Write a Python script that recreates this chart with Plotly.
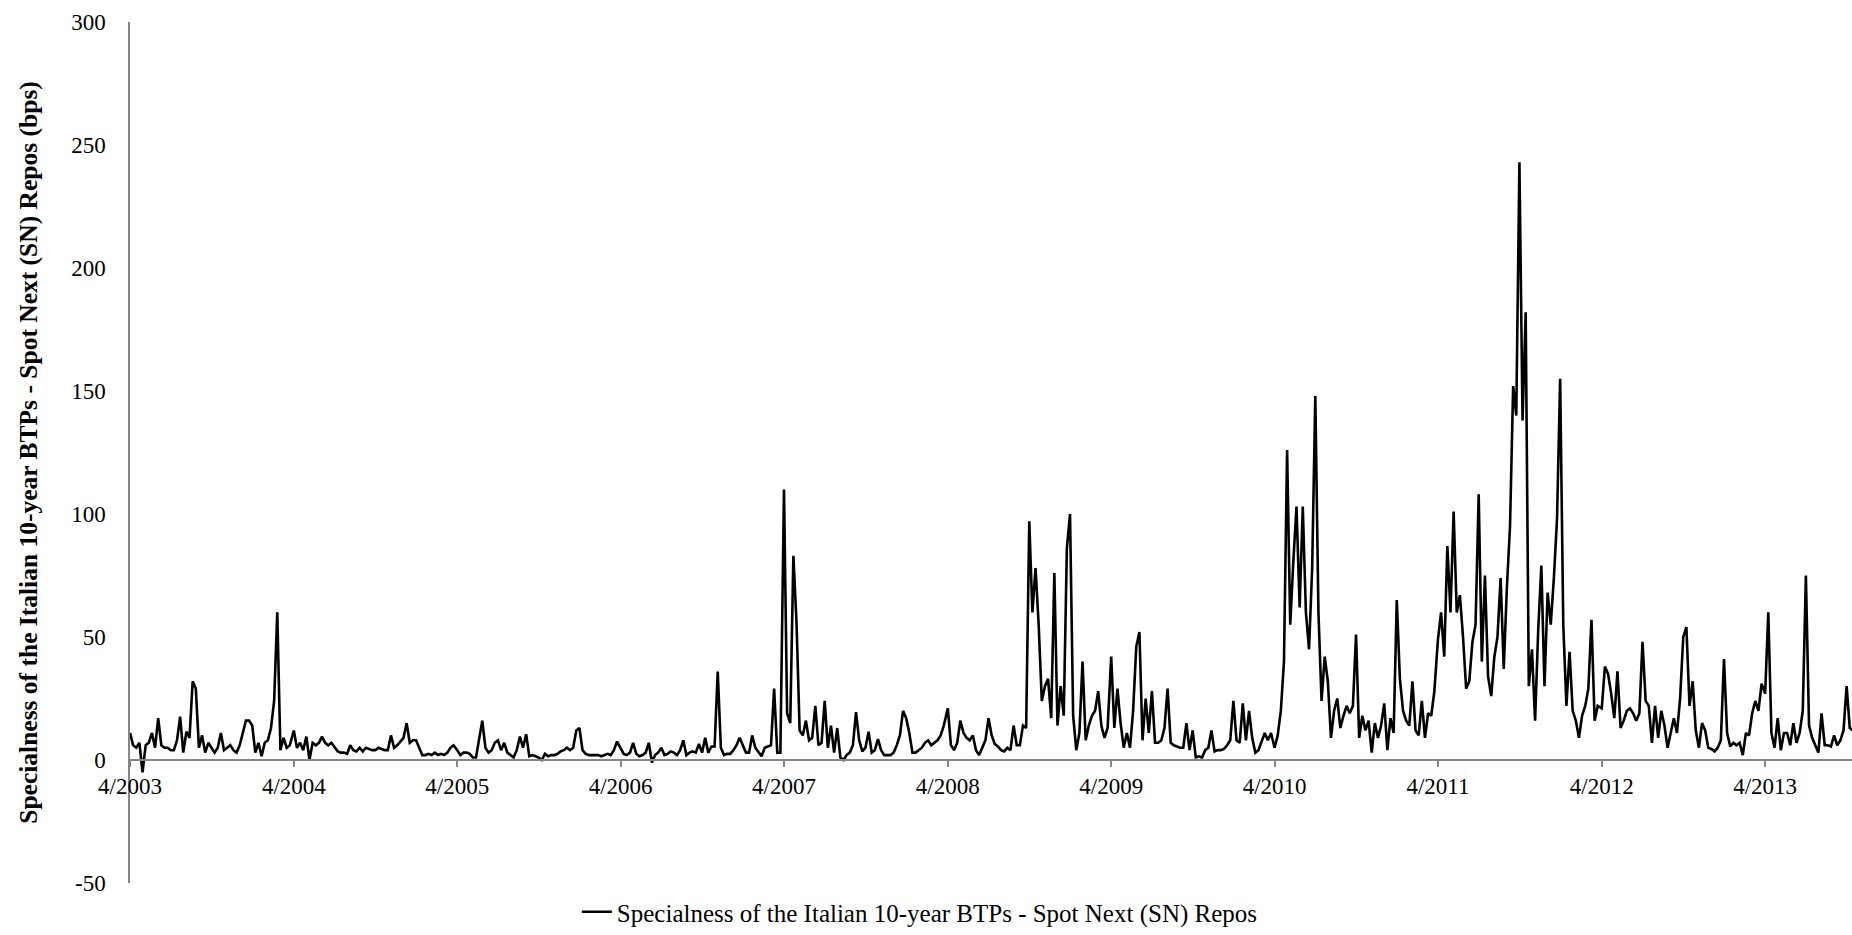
import pandas as pd
import plotly.graph_objects as go

# Weekly readings (bps), one list per April-to-April year
seg_2003 = [11, 6, 5, 7, -5, 6, 7, 11, 5, 17,
            6, 5, 5, 4, 4, 8, 17.6, 3, 11.5, 9,
            32, 29, 5, 10, 3, 7, 5, 3, 5, 11,
            4, 5, 6, 4, 3, 6, 11, 16, 16, 14,
            3, 7, 1.5, 7, 8, 13, 24, 60, 4, 9,
            5, 6]
seg_2004 = [12, 5, 7, 4, 9.5, 0, 7, 6,
            7, 9.5, 7, 6, 7, 5, 3.5, 3, 3, 2.5,
            6, 4, 3.5, 5, 3.5, 5, 4.5, 4, 4, 5,
            4.5, 4, 4, 10, 5, 6, 7.5, 9, 15, 7,
            8, 8, 5, 2, 2, 2.5, 2, 3, 2, 2.5,
            2, 3, 5, 6]
seg_2005 = [4, 2, 3, 3, 2.5, 1,
            1, 8, 16, 5, 3, 4, 7, 8, 4, 7,
            3, 2, 1, 4, 9.5, 5, 10.5, 1.5, 2, 1.5,
            1, 0, 2.5, 1.5, 2, 2, 2.5, 3.5, 4, 5,
            4, 5, 12, 13, 4, 2.5, 2, 2, 2, 2,
            1.5, 2, 2.5, 2, 4, 7.5]
seg_2006 = [5, 2.5, 2, 3,
            7, 2.5, 1.5, 2, 3, 7, -1, 2, 3, 5,
            2, 2.5, 3.5, 3, 2, 4, 8, 2, 3, 3.5,
            3, 6.5, 3, 9, 3, 5.5, 5.5, 36, 5, 2,
            2.5, 2.5, 4, 6, 9, 6, 3, 3, 10, 5,
            3, 1.5, 5, 5.5, 6, 29, 3, 3]
seg_2007 = [110, 19,
            15, 83, 56, 12, 10, 16, 8, 9, 22, 6,
            7, 24, 5, 14, 3, 13, 1, 0, 2, 3,
            6, 19.5, 8, 3.5, 5, 11.5, 3, 4, 8.5, 4,
            2, 2, 2, 3, 6, 10, 20, 17, 11, 3,
            3, 4, 5, 7, 8, 6, 7, 8, 10, 14]
seg_2008 = [21, 6, 4, 7, 16, 11, 9, 8, 10, 4,
            2, 5, 8, 17, 10, 6.5, 5.5, 4, 3.5, 5,
            4, 14, 6, 6, 14, 13, 97, 60, 78, 55,
            24, 30, 33, 17, 76, 14, 30, 18, 86, 100,
            18, 4, 11, 40, 8, 14, 18, 20, 28, 14,
            9, 13]
seg_2009 = [42, 13, 29, 15, 5, 11, 5, 20,
            46, 52, 8, 25, 11, 28, 7, 7, 8, 13,
            29, 7, 6, 5.5, 5, 5, 15, 4, 12, 1,
            1.5, 1, 4, 5, 12, 3.5, 4, 4, 4.5, 6,
            8, 24, 8, 7, 23, 8, 20, 9, 3, 4,
            8, 11, 8, 11]
seg_2010 = [5, 10, 20, 40, 126, 55,
            81, 103, 62, 103, 60, 45, 78, 148, 60, 24,
            42, 32, 9, 20, 25, 13, 18, 22, 19, 22,
            51, 9, 18, 12, 16, 3, 15, 9, 14, 23,
            4, 17, 11, 65, 33, 20, 16, 14, 32, 12,
            10, 24, 9, 19, 18, 28]
seg_2011 = [49, 60, 42, 87,
            60, 101, 60, 67, 50, 29, 32, 48, 55, 108,
            40, 75, 34, 26, 42, 50, 74, 37, 70, 95,
            152, 140, 243, 138, 182, 30, 45, 16, 53, 79,
            30, 68, 55, 74, 98, 155, 55, 22, 44, 20,
            16, 9, 18, 22, 29, 57, 16, 22]
seg_2012 = [21, 38,
            35, 27, 17, 36, 13, 16, 20, 21, 19, 16,
            19, 48, 24, 22, 7, 22, 9, 20, 14, 5,
            11, 17, 11, 25, 50, 54, 22, 32, 12, 5,
            15, 12, 5, 4.5, 3.5, 5, 8, 41, 11, 5.5,
            7, 6, 7, 2, 11, 10, 19, 24, 20, 31]
seg_2013 = [27, 60, 11, 5, 17, 4, 11, 11, 6, 15,
            7, 11, 20, 75, 14, 9, 6, 3, 19, 6,
            6, 5.5, 10, 6, 8, 12, 30, 13, 12]

segments = {2003: seg_2003, 2004: seg_2004, 2005: seg_2005, 2006: seg_2006,
            2007: seg_2007, 2008: seg_2008, 2009: seg_2009, 2010: seg_2010,
            2011: seg_2011, 2012: seg_2012, 2013: seg_2013}

tick_years = list(range(2003, 2014))
tick_labels = [f"4/{y}" for y in tick_years]
y_ticks = [-50, 0, 50, 100, 150, 200, 250, 300]
y_tick_labels = ["-50", "0", "50", "100", "150", "200", "250", "300"]

series_name = "Specialness of the Italian 10-year BTPs - Spot Next (SN) Repos"
y_title = "Specialness of the Italian 10-year BTPs - Spot Next (SN) Repos (bps)"

dates, values = [], []
for yr, seg in segments.items():
    dates.extend(pd.date_range(f"{yr}-04-01", periods=len(seg), freq="7D"))
    values.extend(seg)

fig = go.Figure()
fig.add_trace(go.Scatter(x=dates, y=values, mode="lines", name=series_name,
                         line=dict(color="black", width=2.6)))

axis_grey = "#868686"
fig.update_layout(
    width=1852, height=935,
    margin=dict(l=130, r=0, t=22, b=52, autoexpand=False),
    paper_bgcolor="white", plot_bgcolor="white",
    font=dict(family="Liberation Serif", size=23, color="black"),
    showlegend=True,
    legend=dict(orientation="h", x=0.2595, xanchor="left",
                yref="container", y=0.0, yanchor="bottom",
                font=dict(size=25), itemwidth=30, bgcolor="rgba(0,0,0,0)"),
    xaxis=dict(
        range=["2003-04-01", "2013-10-12"],
        anchor="free", position=50 / 350,
        showline=True, linecolor=axis_grey, linewidth=1.5,
        ticks="outside", ticklen=6, tickcolor=axis_grey, tickwidth=1.5,
        tickvals=[f"{y}-04-01" for y in tick_years], ticktext=tick_labels,
        showgrid=False, zeroline=False,
    ),
    yaxis=dict(
        range=[-50, 300], tickvals=y_ticks, ticktext=y_tick_labels,
        showline=True, linecolor=axis_grey, linewidth=1.5,
        ticks="", ticklabelstandoff=18,
        showgrid=False, zeroline=False,
        title=dict(text=f"<b>{y_title}</b>", font=dict(size=25.5), standoff=26),
    ),
)

fig.write_html("out.html")
